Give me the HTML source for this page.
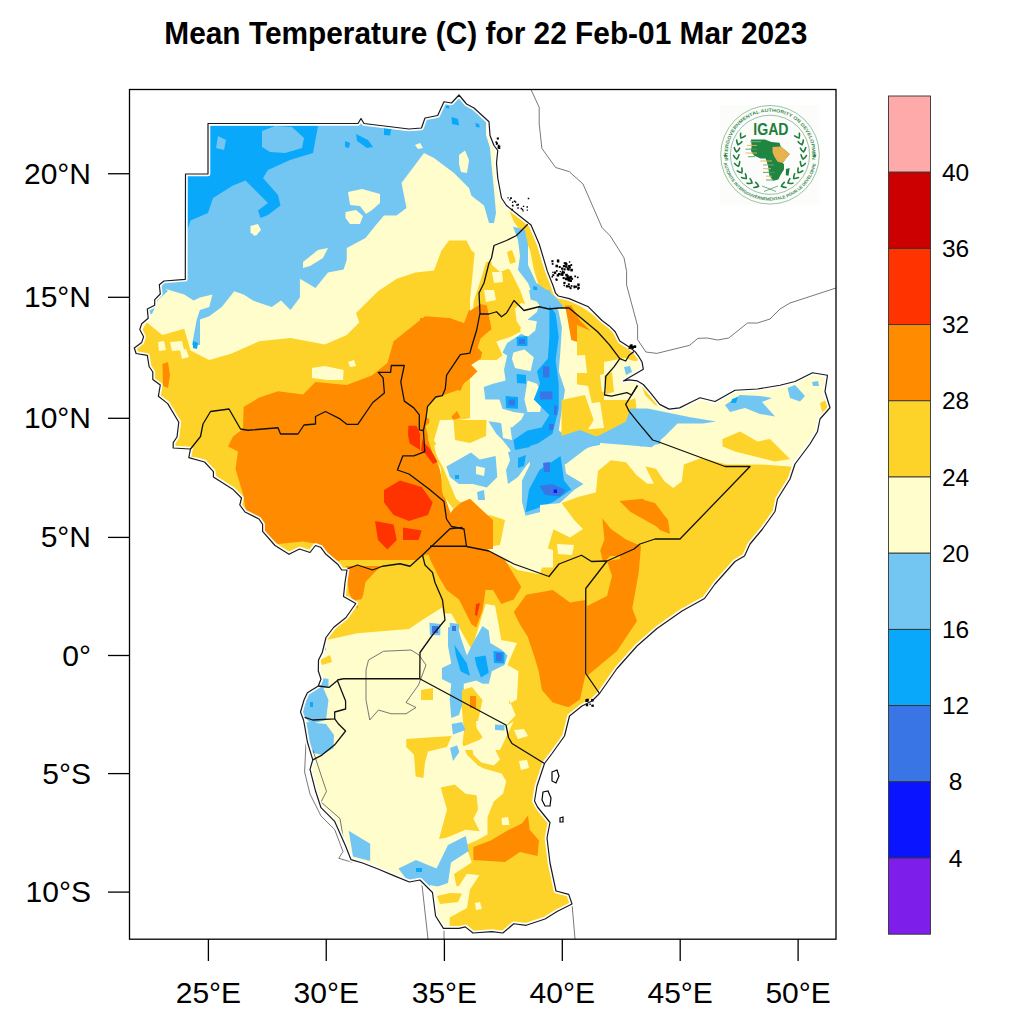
<!DOCTYPE html><html><head><meta charset="utf-8"><style>html,body{margin:0;padding:0;background:#fff;width:1024px;height:1024px;overflow:hidden}svg{display:block}</style></head><body><svg width="1024" height="1024" viewBox="0 0 1024 1024">
<rect width="1024" height="1024" fill="#fff"/>
<text transform="translate(485.8,44.1) scale(0.933,1)" text-anchor="middle" font-family="Liberation Sans" font-weight="bold" font-size="32" fill="#000">Mean Temperature (C) for 22 Feb-01 Mar 2023</text>
<defs><clipPath id="frame"><rect x="129.5" y="89.5" width="706.5" height="849.7"/></clipPath><clipPath id="land"><polygon points="208,123.5 358,123.5 361,118.5 364,123.5 409,129 421.5,128 425,118 437.7,115.5 444,101.75 451.5,103 459,95 466.5,104 474,108 489,121.75 490,135.5 494,145.5 497.75,150.5 496.5,163 497.75,178 501.5,198 506.5,205.5 519,215.5 531,225 539.2,244 547.4,271.4 552.8,285 555.6,293.2 558.3,296 569.2,298.6 588.4,306.8 602,320.5 609.3,325.9 615.2,331.7 619.8,341.1 629.2,347 635.1,351.6 638.6,356.3 642.1,362.2 643.3,369.2 637.4,372.7 629.2,377.4 623.4,380.9 629.2,379.8 637.4,380.9 643.3,384.5 650.3,392.7 659.7,404.4 669.1,409.1 679.6,407.9 691.3,402 700,397.75 715,401.5 735,390.25 757.5,389 780,385.25 795,381.5 812.5,372.75 827.5,375.25 825,391.5 830,407.75 820,419 817.5,431.5 810,444 795,464 790,479 777.5,499 775,511.5 762.5,529 750,544 744.5,556 735,561.5 715,584 704.5,598.5 682,611 657,628.5 637,646 617,668.5 599.5,693.5 592,701 582,706 569.5,716 564.5,736 552,753.5 544.5,763.5 537,786 534.5,801 537.5,807 550,822.5 547,838 550,863 556,891 568.75,894.4 572,904 557.5,911.25 545,919 526.25,925.3 513.75,923.75 502.8,933 492,931.6 473,933 465.3,926.9 459,928.4 443.4,928.4 435.6,916 432.5,892.5 420,880 409.4,882 393.75,875.6 378,869 362.5,863 351,859.7 345.6,846 334.7,821.4 321,807.7 315.6,791.3 310,769.4 312.8,759.8 307.4,742 304.6,725.6 303.5,720 300.5,712 304,700 307.4,692.8 318.3,686 321,679 318.3,671 318.5,660 322.25,652.5 326,637.5 333.5,627.5 346,617.5 355.8,603.5 343.5,596.4 345,582.5 347,570 341.7,570 338.2,564.8 326,554.3 320.6,547.2 315.4,545.5 310,552.5 299.5,549 289,554.3 275,545.5 262.6,531.4 262.6,524.4 259,519 245,512 239.8,505 241.5,498 232.7,489.2 213.4,477 213.4,471.6 204.6,462 188.8,457.6 190.5,448.8 190,449 173.2,448 173.2,442.6 177,437 178.8,422.2 167.7,403.6 158.4,396.2 160.3,385 152.8,379.5 152.8,372 149.1,366.5 147.3,355.4 136.1,353.5 134.3,348 141.7,342.4 143.6,336.8 139.8,329.4 141.7,323.8 148.2,318.2 147.3,309 154.7,305.3 154.7,299.7 160.3,294 159.3,284.8 164,281 185.3,279.3 185.5,174 208,174"/></clipPath></defs>
<g clip-path="url(#frame)">
<polygon points="208,123.5 358,123.5 361,118.5 364,123.5 409,129 421.5,128 425,118 437.7,115.5 444,101.75 451.5,103 459,95 466.5,104 474,108 489,121.75 490,135.5 494,145.5 497.75,150.5 496.5,163 497.75,178 501.5,198 506.5,205.5 519,215.5 531,225 539.2,244 547.4,271.4 552.8,285 555.6,293.2 558.3,296 569.2,298.6 588.4,306.8 602,320.5 609.3,325.9 615.2,331.7 619.8,341.1 629.2,347 635.1,351.6 638.6,356.3 642.1,362.2 643.3,369.2 637.4,372.7 629.2,377.4 623.4,380.9 629.2,379.8 637.4,380.9 643.3,384.5 650.3,392.7 659.7,404.4 669.1,409.1 679.6,407.9 691.3,402 700,397.75 715,401.5 735,390.25 757.5,389 780,385.25 795,381.5 812.5,372.75 827.5,375.25 825,391.5 830,407.75 820,419 817.5,431.5 810,444 795,464 790,479 777.5,499 775,511.5 762.5,529 750,544 744.5,556 735,561.5 715,584 704.5,598.5 682,611 657,628.5 637,646 617,668.5 599.5,693.5 592,701 582,706 569.5,716 564.5,736 552,753.5 544.5,763.5 537,786 534.5,801 537.5,807 550,822.5 547,838 550,863 556,891 568.75,894.4 572,904 557.5,911.25 545,919 526.25,925.3 513.75,923.75 502.8,933 492,931.6 473,933 465.3,926.9 459,928.4 443.4,928.4 435.6,916 432.5,892.5 420,880 409.4,882 393.75,875.6 378,869 362.5,863 351,859.7 345.6,846 334.7,821.4 321,807.7 315.6,791.3 310,769.4 312.8,759.8 307.4,742 304.6,725.6 303.5,720 300.5,712 304,700 307.4,692.8 318.3,686 321,679 318.3,671 318.5,660 322.25,652.5 326,637.5 333.5,627.5 346,617.5 355.8,603.5 343.5,596.4 345,582.5 347,570 341.7,570 338.2,564.8 326,554.3 320.6,547.2 315.4,545.5 310,552.5 299.5,549 289,554.3 275,545.5 262.6,531.4 262.6,524.4 259,519 245,512 239.8,505 241.5,498 232.7,489.2 213.4,477 213.4,471.6 204.6,462 188.8,457.6 190.5,448.8 190,449 173.2,448 173.2,442.6 177,437 178.8,422.2 167.7,403.6 158.4,396.2 160.3,385 152.8,379.5 152.8,372 149.1,366.5 147.3,355.4 136.1,353.5 134.3,348 141.7,342.4 143.6,336.8 139.8,329.4 141.7,323.8 148.2,318.2 147.3,309 154.7,305.3 154.7,299.7 160.3,294 159.3,284.8 164,281 185.3,279.3 185.5,174 208,174" fill="#FFFDCC"/>
<g clip-path="url(#land)">
<polygon points="150,292 150,174 208,170 208,118 459,90 466.5,104 474,108 486,120 486,135 490,148 491.5,165 494,190 496.5,213 494,223 489,223 484,205.5 471.5,195.5 469,188 454,173 434,158 424,153 416.5,163 401.5,183 406.5,208 396.5,215.5 384,215.5 375.5,225.5 365.5,238 346.75,248 346.75,260 343.6,269.4 328,272.5 315.5,288 299.9,278.75 299.9,297.5 290.5,310 281,300.6 271.75,306.9 253,300.6 243.6,294.4 234.25,291.25 221.75,306.9 209.25,316.25 200,319.4 200,345 192,345 196.75,319.4 199.9,310 209.25,306.9 212.4,294.4 199.9,297.5 193.6,300.6 184.25,294.4 162.4,288 150,292" fill="#73C6F2"/>
<polygon points="150,290 162,286 168,291 158,300 152,314 144,312" fill="#73C6F2"/>
<polygon points="205,126 318,126 313,153 290,160 268,170 263,178 278,195 280.5,205.5 268,215 260.5,218 258,210.5 268,203 253,188 245.5,180.5 233,185.5 213,198 208,213 190.5,220.5 188,228 180,228 180,174 205,174" fill="#0AA8FA"/>
<polygon points="262,131 275,126 292,127 304,138 302,148 285,153 270,152 262,147" fill="#73C6F2"/>
<polygon points="218,136 226,140 224,150 216,148" fill="#73C6F2"/>
<polygon points="451.5,117 458,119 459,125.5 452,124" fill="#0AA8FA"/>
<polygon points="384,126 391.5,128 390,135.5 384,135" fill="#0AA8FA"/>
<polygon points="475.4,123 479,124 479.8,127.5 476,127" fill="#0AA8FA"/>
<polygon points="446,105.5 449,106 449,108.4 446,108" fill="#0AA8FA"/>
<polygon points="356,134 368,140 373,147 367,148 357,141" fill="#0AA8FA"/>
<polygon points="345,141 350,143 349,148 345,147" fill="#0AA8FA"/>
<polygon points="193,341 198,343 197,349 193,348" fill="#0AA8FA"/>
<polygon points="348,192 362,189 380,194 380,203 372,210 366,214 360,206 350,205" fill="#FFFDCC"/>
<polygon points="345.5,212 356,210 363,216 360,224 350,224 345.5,218" fill="#FFFDCC"/>
<polygon points="250.5,226 258,224 261,230 256,235.5 250.5,233" fill="#FFFDCC"/>
<polygon points="459,155 465,150.5 469,160 467,173 461,172 459,164" fill="#FFFDCC"/>
<polygon points="415,145 420,143 423,148 418,149" fill="#FFFDCC"/>
<polygon points="303,262 318,250 328,248 323,258 310,266 303,268" fill="#FFFDCC"/>
<polygon points="252,232 256,230 258,234 254,236" fill="#FFFDCC"/>
<polygon points="120,338 137.4,338 146.75,322.5 162.4,335 184.25,328.75 190.5,350.6 209.25,360 231,353.75 259.25,341.25 290.5,338 324.9,344.4 346.75,335 359.25,322.5 356,313 378,291.25 396.75,278.75 415.5,272.5 434,270.5 441.5,250.5 449,240.5 466.5,240.5 471.5,250.5 481.5,258 489,263 484,283 479,293 480,313 476.7,330 478,347.8 476,420 450,520 420,600 300,620 120,620" fill="#FDD32A"/>
<polygon points="158,342 164,341 166,350 159,351" fill="#FFFDCC"/>
<polygon points="170,342 182,341 184,350 172,351" fill="#FFFDCC"/>
<polygon points="180,350 186,349 189,357 182,359" fill="#FFFDCC"/>
<polygon points="312,368 325,366 343.6,370 343,380 328,380 312,378" fill="#FFFDCC"/>
<polygon points="348,362 354,360 356,366 350,367" fill="#FFFDCC"/>
<polygon points="243.6,407 259.25,397.5 278,391.25 303,394.4 315.5,382 346.75,385 371.75,375.6 387.4,363 393.6,341.25 409.25,328.75 425,316.25 449,318 464,323 469,310.5 481.5,303 486.5,308 491,318 489,338 470,345 468.5,357.3 469.9,371 463,384.7 457.6,398.4 454.8,406.6 460.3,417.5 453.5,420.2 441.2,398.4 430,410 428,440 440,470 446,500 455,525 462,540 440,552 422,556 410,566 400,570 382.5,577.5 365,585 367.5,600 362.5,607.5 352.5,595 350,570 348,564 333,559 318,544 303,541.5 278,544 268,536 248,514 245.5,509 243,494 235.5,469 238,451.5 228,446.5 233,436.5 243,429" fill="#FF8C00"/>
<polygon points="162.4,364 168,362 170,375 168,388 163,386" fill="#FF8C00"/>
<polygon points="384,490 400,480.6 421.75,487 432.7,502.5 428,515 409,521 393.6,515 384,502.5" fill="#FF3300"/>
<polygon points="375,521 393.6,524.4 396.75,540 387.4,549.4 378,540" fill="#FF3300"/>
<polygon points="403,527.5 421.75,530.6 418.6,540 403,540" fill="#FF3300"/>
<polygon points="408.4,425.7 416.6,425.7 423.4,442.1 428.9,447.6 438.4,461.3 433,464 424.8,453 409.7,443.5 408,435" fill="#FF3300"/>
<polygon points="480,200 520,205 640,340 640,440 470,440 470,300" fill="#FFFDCC"/>
<polygon points="474,300 480,282 486,262 498,262 510,270 520,290 528,312 520,330 540,360 470,360 470,330" fill="#FDD32A"/>
<polygon points="490,248 508,250 510,268 500,272 492,265" fill="#FFFDCC"/>
<polygon points="484,290 494,290 496,300 486,302" fill="#FFFDCC"/>
<polygon points="492,272 502,272 503,282 494,283" fill="#FFFDCC"/>
<polygon points="507,252 512,250 516,262 510,264" fill="#FDD32A"/>
<polygon points="500,200 512,208 522,216 530,228 537,245 542,262 548,278 556,286 566,296 580,306 598,318 612,330 622,341 632,348 640,360 630,362 618,352 600,338 584,325 566,312 552,300 540,290 534,270 530,250 524,236 514,222" fill="#FDD32A"/>
<polygon points="513,226.5 524.8,230 528,244.8 528,265 536.4,283 546.4,289.7 556.4,298 563,306 562,330 560,370 530,370 540,330 546,310 540,306 533,296 528,283 518,270 520,256 518,240" fill="#73C6F2"/>
<polygon points="533,286 537,287 538,294 534,293" fill="#0AA8FA"/>
<polygon points="564.7,309.6 578,319.6 590,330 596,339.5 597,352.8 586,353 576,339.5 569.7,323" fill="#FF8C00"/>
<polygon points="478,190 500,190 514,222 505,226 490,225 478,215" fill="#FFFDCC"/>
<polygon points="470,190 494,190 496,213 494,223 489,223 484,205.5 471.5,195.5" fill="#73C6F2"/>
<polygon points="440,318 449.4,318 466.6,324.4 468,311.9 480.6,304 486.9,305.6 488.4,313.4 491.6,329 480.6,338.4 477.5,347.8 482.2,352.5 480.6,358.75 471.25,365 477.5,371.25 471.25,377.5 463.4,383.75 452,390 442.5,395.6 435.7,397 427.5,406.6 426.1,417.5 423.4,430.5 420,458 420,318" fill="#FF8C00"/>
<polygon points="442.5,395.6 458,390 466,393 460,408 448,420 433,421 426.1,417.5 427.5,406.6 435.7,397" fill="#FDD32A"/>
<polygon points="440,420 460.3,419.7 471.25,418 480.6,411.9 476,399.4 483.75,383.75 485.3,371.25 490,365 502.5,355.6 496.25,341.6 510.3,336.9 522.8,330.6 516.6,321.25 515,308.75 521,303 539,306.75 549,309 559,308 569,308 575,320 577,430 520,452 470,452 440,452 434,440" fill="#FFFDCC"/>
<polygon points="496.25,324.4 499.4,330.6 502.5,336.9 510.3,333.75 505.6,324.4" fill="#FDD32A"/>
<polygon points="434,445 520,440 600,445 600,560 540,572 514,564 489,551 470,545 455,525 446,500 440,470" fill="#FFFDCC"/>
<polygon points="529,290 549.4,290 555.6,302.5 558.75,311.9 561.9,327.5 560.3,352.5 558.75,371.25 565,390 561.9,408.75 558.75,430.6 568,436.9 590,433.75 600,430.6 600,445 560,452 543,455 529,462 518,477 508,484 506,470 511,458 510.3,450 502.5,440 496.25,433.75 488.4,421.25 499.4,422.8 511.9,427.5 521.25,419.7 524.4,413.4 513.4,411.9 502.5,408.75 499.4,399.4 485.3,399.4 483.75,386.9 493,383.75 505.6,380.6 504,369.7 507.2,355.6 502.5,352.5 507.2,343 521.25,333.75 527.5,336.9 535.3,330.6 536.9,321.25 527.5,319.7 536.9,311.9 540,302.5 530.6,299.4" fill="#73C6F2"/>
<polygon points="513.4,352.5 524.4,349.4 533.75,357.2 530.6,371.25 515,368 511.9,358.75" fill="#FFFDCC"/>
<polygon points="527.5,380.6 536.9,383.75 543,396.25 540,411.9 527.5,411.9 524.4,399.4" fill="#FFFDCC"/>
<polygon points="501,421 510,424 512,440 503,438" fill="#FFFDCC"/>
<polygon points="549.4,305.6 555.6,313.4 558.75,337 555.6,360.3 558.75,383.75 558.75,408.75 552.5,433.75 533.75,446.25 515,450 513.4,440 527.5,430.6 541.6,427.5 549.4,415 533.75,399.4 540,383.75 536.9,371.25 547.8,358.75 549.4,337 549.4,321.25" fill="#0AA8FA"/>
<polygon points="516.6,374 526,375 526,383.75 517,383" fill="#0AA8FA"/>
<polygon points="505.6,396 518,397 518,408.75 506,408" fill="#0AA8FA"/>
<polygon points="508.75,399.4 515,399.4 515,405.6 508.75,405.6" fill="#3A75E6"/>
<polygon points="516.6,337 527.5,336 527.5,346 517,346" fill="#0AA8FA"/>
<polygon points="519,339 525,339 525,344 519,344" fill="#3A75E6"/>
<polygon points="543,366.6 549.4,366.6 549.4,377.5 543,377.5" fill="#3A75E6"/>
<polygon points="540,391.6 552.5,391.6 552.5,399.4 540,399.4" fill="#3A75E6"/>
<polygon points="554,405.6 557.2,405.6 557.2,415 554,415" fill="#3A75E6"/>
<polygon points="549,424 554,424 553,430 549,430" fill="#3A75E6"/>
<polygon points="565,305.6 571.25,305.6 580.6,321.25 596.25,337 596.25,349.4 585.3,352.5 580.6,343 571.25,340 568,321.25" fill="#FF8C00"/>
<polygon points="577,325 600,335 630,350 640,440 600,436 568,436.9 577,420" fill="#FDD32A"/>
<polygon points="574.7,384 588,386 592,404 585,417.3 576,412" fill="#FFFDCC"/>
<polygon points="568,356 585,355 587,373 570,373" fill="#FFFDCC"/>
<polygon points="578,405 600,402 604,428 580,430" fill="#FFFDCC"/>
<polygon points="600,375 612,372 615,388 602,392" fill="#FFFDCC"/>
<polygon points="561.5,400 585,395 593.7,420 580,443 561.5,440" fill="#FDD32A"/>
<polygon points="604,362 625,358 645,365 645,395 630,400 604,400" fill="#FFFDCC"/>
<polygon points="624,367 630,366 632,372 626,375" fill="#73C6F2"/>
<polygon points="604,376 612,372 614,392 606,394" fill="#FDD32A"/>
<polygon points="475,520 490,515 505,520 500,545 480,548 466.5,546.5 466,530" fill="#FDD32A"/>
<polygon points="425.5,426 433,420 434.4,451.7 443.3,468 449.7,483.5 456,498.7 461,502.5 453.5,509 443.3,496 442,491 440.8,468 432,451.7" fill="#FDD32A"/>
<polygon points="453.5,509 461,502.5 470,498.7 482,510 493,520 493,549 470,550 455,550 446,519" fill="#FF8C00"/>
<polygon points="453.5,420 486.5,420 486,436 470,443 455,440" fill="#FDD32A"/>
<polygon points="530,446 580,430 600,438 566,464 530,466" fill="#73C6F2"/>
<polygon points="522,480.6 532.5,459.5 560.6,452.5 600,435 626,421.5 630.2,408.6 647.4,408.6 690.4,417.2 716.2,421.5 703.3,423.6 677.5,423.6 664.6,436.5 651.7,447.3 626,445.1 600.2,443 567.9,455.8 564,459.5 566,473.6 583.5,484 574.7,489.4 553.6,508.75 525.5,515.8 522,501.7" fill="#73C6F2"/>
<polygon points="640,411.5 665,412 660,444 640,446.5" fill="#73C6F2"/>
<polygon points="508,452 535,448 530,462 520,470 512,468" fill="#73C6F2"/>
<polygon points="525.5,512.3 529,489.4 539.5,470 560.6,456 564,480.6 571.2,489.4 553.6,501.7 536,508.75" fill="#0AA8FA"/>
<polygon points="539.5,486 552,484 566,490 560,496.4 545,495" fill="#3A75E6"/>
<polygon points="543,463 550,462 550,472 544,472" fill="#3A75E6"/>
<polygon points="553.6,489.5 557,489.5 557,493 553.6,493" fill="#0A14FF"/>
<polygon points="518,458 526,455 524,466 518,468" fill="#0AA8FA"/>
<polygon points="446.4,466.6 471,452.5 479.8,459.5 495.6,456 497.3,477 486.8,487.6 472.7,484 458.7,484 449.9,477" fill="#73C6F2"/>
<polygon points="455,475 459,475 459,479 455,479" fill="#0AA8FA"/>
<polygon points="476,466 485,468 484,476 476,474" fill="#FFFDCC"/>
<polygon points="477,492 484,490 485,500 478,500" fill="#73C6F2"/>
<polygon points="540,574 561.5,503 578.7,496.7 595.9,492.4 598,470.9 610.9,460.2 626,462.3 636.7,475.2 647.4,483.8 653.9,483.8 645.3,466.6 656,468.7 664.6,481.6 673.2,488 681.8,481.6 683.9,464.4 701.1,458 726.9,464.4 760,464.4 790,466.5 800,470 780,620 640,700 540,700" fill="#FDD32A"/>
<polygon points="540,520.3 552.9,528.9 570,537.5 583,528.9 574.4,520.3 561.5,503 540,505" fill="#FFFDCC"/>
<polygon points="540,546 553,550 553,567.6 540,567.6" fill="#FFFDCC"/>
<polygon points="557,544 574,545 572,555 558,554" fill="#FFFDCC"/>
<polygon points="619.5,501 643.1,498.8 651.7,511.7 668.9,526.7 664.6,531 645.3,520.3 630.2,511.7" fill="#FF8C00"/>
<polygon points="602.3,518.2 610.9,528.9 626,539.6 641,546 638.8,571.9 630.2,620 587.3,620 585.1,589 600.2,584.7 610.9,582.6 604.4,567.6 600.2,550.4 604.4,539.6" fill="#FF8C00"/>
<polygon points="540,589 561.5,593.3 580.8,602 585.1,620 540,620" fill="#FF8C00"/>
<polygon points="640,499 655,503 668,520 670,534 660,530 645,515" fill="#FF8C00"/>
<polygon points="640,381 655,395 670,409 655,405 645,395" fill="#FDD32A"/>
<polygon points="722.5,439 740,431.5 757.5,441.5 770,439 790,459 775,461.5 755,456.5 735,451.5 722.5,446.5" fill="#FDD32A"/>
<polygon points="725,405 740,395 760,396 772,398 762,402 775,416.5 760,414 745,408 730,412" fill="#73C6F2"/>
<polygon points="732,399 738,397 736,403 731,403" fill="#0AA8FA"/>
<polygon points="787.5,388 795,385 805,396 800,401.5 790,398" fill="#73C6F2"/>
<polygon points="812,382 818,381 819,386 813,386" fill="#73C6F2"/>
<polygon points="820,403 826,400 828,410 822,412" fill="#FDD32A"/>
<polygon points="430,546 489,551 517.5,570 549,576 559.6,563 580.7,554.4 589.5,561.4 605.3,561.4 610,556 620,556 620,720 580,760 600,940 448,940 448,927 436.5,898 457,889 454,874 471.7,862.6 465.8,845 476.6,840.6 487.5,834.4 487.5,817.2 493.75,801.6 503,793.75 506.25,781.25 501.6,773.4 484.4,768.75 478,765.6 467,754.7 462.5,743.75 464,731 462.5,715.6 461,700 478,700 475,709.4 476.6,728 482.8,737.5 500,736 507.8,723.4 515.6,715.6 509.4,700 509,704 516.9,699.4 518.4,671.25 507.5,665 516.9,643.1 501.25,640 498,621.25 495,605.6 485.6,604 479.4,624.4 471.6,649.4 451.25,613.4 443.4,613.4 440,600 430,580" fill="#FDD32A"/>
<polygon points="340,560 445,560 443,607 421.8,620.3 409,628.9 357.3,633.2 318.7,641.8 310,641 315,620 330,600" fill="#FDD32A"/>
<polygon points="346,566 382,566 375,572 365.5,582 363,595.6 357.3,609 349,593" fill="#FF8C00"/>
<polygon points="504.4,727.5 490.3,730.6 479.4,740 463.75,746.25 451.25,750 500,750 513.75,721.25" fill="#FFFDCC"/>
<polygon points="426,547.3 450,528 467,527 489,551 505,560 521.3,587 513.75,599.4 501.25,604 493,590 485.6,590 482.5,610.3 476.25,627.5 471.6,624.4 459,599.4 446.6,590 439,577.3 430.4,560" fill="#FF8C00"/>
<polygon points="513.75,611.9 526.25,594.7 552.8,590 570,602.5 585.75,600 585.75,673.5 580,699.4 568.4,707.2 552.8,702.5 541.9,690 538.75,671.25 534,655.6 527.8,636.9 520,624.4" fill="#FF8C00"/>
<polygon points="587,606 607,596 612,576 607,561 639.5,556 629.5,601 637,621 617,651 587,676" fill="#FF8C00"/>
<polygon points="476,604 480,603 477,616 475,615" fill="#FF3300"/>
<polygon points="448,627.5 457.5,624.4 460.6,637 466.9,655.6 473,643 482.5,626 488.75,630.6 490.3,643 501.25,649.4 507.5,655.6 504.4,665 491.9,671.25 488.75,683.75 482.5,683.75 476.25,680.6 463.75,683.75 463.75,699.4 459,715 451.25,718 449.7,699.4 451.25,683.75 441.9,679 441.9,668 451.25,663.4 448,646.25" fill="#73C6F2"/>
<polygon points="454.4,644.7 466.9,663.4 470,676 460.6,671.25 456,655.6" fill="#0AA8FA"/>
<polygon points="474.7,657.2 485.6,655.6 488.75,672.8 481,677.5 476.25,665" fill="#0AA8FA"/>
<polygon points="493.4,651 504.4,652 504.4,663.4 494,663" fill="#0AA8FA"/>
<polygon points="496,653 502,653 502,661 496,661" fill="#3A75E6"/>
<polygon points="429.4,622.8 440.3,624 440.3,635.3 430,635" fill="#73C6F2"/>
<polygon points="432,626 438,626 438,633 432,633" fill="#3A75E6"/>
<polygon points="449.7,622.8 459,624 459,633.75 450,633" fill="#73C6F2"/>
<polygon points="452,626 456,626 456,631 452,631" fill="#3A75E6"/>
<polygon points="495,724.4 504.4,725 504.4,730.6 495,730" fill="#73C6F2"/>
<polygon points="462,690 472,687 482.5,700 478,721 466,721 462,705" fill="#FDD32A"/>
<polygon points="470,696 476,696 476,708 470,708" fill="#FF8C00"/>
<polygon points="421,690 433,688 433,700 421,700" fill="#FDD32A"/>
<polygon points="440.6,787.5 454.7,784.4 465.6,793.75 476.6,795.3 478,809.4 473.4,818.75 479.7,831.25 465.6,829.7 447,837.5 439,839 447,809.4" fill="#FDD32A"/>
<polygon points="471.9,745.3 482.8,740.6 493.75,746.9 500,759.4 493.75,765.6 481.25,762.5 473.4,754.7" fill="#FFFDCC"/>
<polygon points="514,730 524,729 528,736 518,739" fill="#FFFDCC"/>
<polygon points="519,761 527,760 529,768 521,770" fill="#FFFDCC"/>
<polygon points="501.6,818 508,817 509.4,825 502,825" fill="#FFFDCC"/>
<polygon points="451.6,724 462,722 465.6,730 453,734.4" fill="#73C6F2"/>
<polygon points="450,748 457,745.3 459.4,752 453,761" fill="#73C6F2"/>
<polygon points="406.25,739 428,737.5 451.6,736 447,747 428,751.6 425,762.5 423.4,778 415.6,776.6 414,754.7 406.25,747" fill="#FDD32A"/>
<polygon points="356,600 372,598 375,612 360,612" fill="#FDD32A"/>
<polygon points="348.7,830.8 370.2,843.7 370.2,861 353,856.6" fill="#73C6F2"/>
<polygon points="398.4,868.5 416,860 436.5,868.5 448,845 465.8,836 468.7,851 451,862.6 448,883 430.6,889 407,880" fill="#73C6F2"/>
<polygon points="416,868 422,868 422,872 416,872" fill="#0AA8FA"/>
<polygon points="430,885 445,888 459,886 466.9,873.75 479.4,875.3 470,889.4 466.9,908 449.7,917.5 449.7,932 430,932" fill="#FFFDCC"/>
<polygon points="437,896 450,893 462,893.5 458,902 440,904" fill="#FDD32A"/>
<polygon points="475,903 480,902 482,909 476,910" fill="#FFFDCC"/>
<polygon points="473.4,846.9 490.6,840.6 506.25,831.25 521.9,823.4 528,815.6 529.7,829.7 539,840.6 537.5,856 520,852 505,862 473.4,860" fill="#FF8C00"/>
<polygon points="300,690 322,685 328.5,700 326,720 311,724 300,712" fill="#73C6F2"/>
<polygon points="306,722 326,724 334,735 333.5,748 322,755 310,752" fill="#73C6F2"/>
<polygon points="318.5,677.5 328.5,679 328.5,687.5 318.5,687.5" fill="#73C6F2"/>
<polygon points="310,702 313,702 313,707 310,707" fill="#0AA8FA"/>
<polygon points="322,643 326,643 326,650 322,650" fill="#0AA8FA"/>
<polygon points="320,660 330,655 332,662 322,665" fill="#FDD32A"/>
</g>
<polyline points="531,89.6 539.2,107.3 539.2,123.8 541.9,148.4 555.6,167.5 569.2,171.6 583,184 602,227.6 610.3,236 624,257.8 626.6,271.4 626.6,285 637.6,326 637.6,339.7 645.9,352 656.8,353.4 689.6,345.3 697.8,338.4 707.5,338 717.5,340 728.75,338 747.5,323 757.5,323 770,319 780,309 790,303 836,288" fill="none" stroke="#555" stroke-width="0.8"/>
<polyline points="368.5,660 383.5,651.25 411,650 419,655 426,665 418.5,685 406,702.5 416,707.5 406,713.75 391,713.75 378.5,710 369.75,720 366,700 366,670 368.5,660" fill="none" stroke="#555" stroke-width="0.8"/>
<polyline points="306,742 304.6,772 310,794 321,816 334.7,829.6 343,851.5 338.8,858.3 352.5,862.4" fill="none" stroke="#555" stroke-width="0.8"/>
<polyline points="312.8,750 321,775 326.5,791.3 321,802 340,818.6 345.6,851.5" fill="none" stroke="#555" stroke-width="0.8"/>
<polyline points="422,885 428,939" fill="none" stroke="#555" stroke-width="0.8"/>
<polyline points="444,929 444,939" fill="none" stroke="#555" stroke-width="0.8"/>
<polyline points="572,904 575,939" fill="none" stroke="#555" stroke-width="0.8"/>
<polygon points="208,123.5 358,123.5 361,118.5 364,123.5 409,129 421.5,128 425,118 437.7,115.5 444,101.75 451.5,103 459,95 466.5,104 474,108 489,121.75 490,135.5 494,145.5 497.75,150.5 496.5,163 497.75,178 501.5,198 506.5,205.5 519,215.5 531,225 539.2,244 547.4,271.4 552.8,285 555.6,293.2 558.3,296 569.2,298.6 588.4,306.8 602,320.5 609.3,325.9 615.2,331.7 619.8,341.1 629.2,347 635.1,351.6 638.6,356.3 642.1,362.2 643.3,369.2 637.4,372.7 629.2,377.4 623.4,380.9 629.2,379.8 637.4,380.9 643.3,384.5 650.3,392.7 659.7,404.4 669.1,409.1 679.6,407.9 691.3,402 700,397.75 715,401.5 735,390.25 757.5,389 780,385.25 795,381.5 812.5,372.75 827.5,375.25 825,391.5 830,407.75 820,419 817.5,431.5 810,444 795,464 790,479 777.5,499 775,511.5 762.5,529 750,544 744.5,556 735,561.5 715,584 704.5,598.5 682,611 657,628.5 637,646 617,668.5 599.5,693.5 592,701 582,706 569.5,716 564.5,736 552,753.5 544.5,763.5 537,786 534.5,801 537.5,807 550,822.5 547,838 550,863 556,891 568.75,894.4 572,904 557.5,911.25 545,919 526.25,925.3 513.75,923.75 502.8,933 492,931.6 473,933 465.3,926.9 459,928.4 443.4,928.4 435.6,916 432.5,892.5 420,880 409.4,882 393.75,875.6 378,869 362.5,863 351,859.7 345.6,846 334.7,821.4 321,807.7 315.6,791.3 310,769.4 312.8,759.8 307.4,742 304.6,725.6 303.5,720 300.5,712 304,700 307.4,692.8 318.3,686 321,679 318.3,671 318.5,660 322.25,652.5 326,637.5 333.5,627.5 346,617.5 355.8,603.5 343.5,596.4 345,582.5 347,570 341.7,570 338.2,564.8 326,554.3 320.6,547.2 315.4,545.5 310,552.5 299.5,549 289,554.3 275,545.5 262.6,531.4 262.6,524.4 259,519 245,512 239.8,505 241.5,498 232.7,489.2 213.4,477 213.4,471.6 204.6,462 188.8,457.6 190.5,448.8 190,449 173.2,448 173.2,442.6 177,437 178.8,422.2 167.7,403.6 158.4,396.2 160.3,385 152.8,379.5 152.8,372 149.1,366.5 147.3,355.4 136.1,353.5 134.3,348 141.7,342.4 143.6,336.8 139.8,329.4 141.7,323.8 148.2,318.2 147.3,309 154.7,305.3 154.7,299.7 160.3,294 159.3,284.8 164,281 185.3,279.3 185.5,174 208,174" fill="none" stroke="#fff" stroke-width="4.6" stroke-linejoin="round"/>
<polygon points="552,772 557,770 559,776 556,783 552,781" fill="#fff" stroke="#000" stroke-width="1.2"/>
<polygon points="543,792 548,791 551,798 550,806 545,806 542,800" fill="#fff" stroke="#000" stroke-width="1.2"/>
<polygon points="560,818 563,817 563,822 560,822" fill="#fff" stroke="#000" stroke-width="1.2"/>
<polygon points="555.9,270.026 557.618,270.026 557.618,271.744 555.9,271.744" fill="#000"/>
<polygon points="563.433,271.869 564.724,271.869 564.724,273.16 563.433,273.16" fill="#000"/>
<polygon points="551.482,275.968 553.045,275.968 553.045,277.531 551.482,277.531" fill="#000"/>
<polygon points="555.757,278.984 557.616,278.984 557.616,280.842 555.757,280.842" fill="#000"/>
<polygon points="567.682,268.48 569.777,268.48 569.777,270.574 567.682,270.574" fill="#000"/>
<polygon points="553.805,271.49 556.22,271.49 556.22,273.905 553.805,273.905" fill="#000"/>
<polygon points="561.394,273.755 563.534,273.755 563.534,275.895 561.394,275.895" fill="#000"/>
<polygon points="552.267,274.151 554.294,274.151 554.294,276.178 552.267,276.178" fill="#000"/>
<polygon points="556.819,259.414 559.231,259.414 559.231,261.826 556.819,261.826" fill="#000"/>
<polygon points="560.24,273.161 562.67,273.161 562.67,275.592 560.24,275.592" fill="#000"/>
<polygon points="565.406,277.545 567.159,277.545 567.159,279.298 565.406,279.298" fill="#000"/>
<polygon points="566.763,267.638 569.273,267.638 569.273,270.147 566.763,270.147" fill="#000"/>
<polygon points="568.882,261.254 570.273,261.254 570.273,262.644 568.882,262.644" fill="#000"/>
<polygon points="555.434,278.404 557.245,278.404 557.245,280.215 555.434,280.215" fill="#000"/>
<polygon points="563.578,265.065 565.488,265.065 565.488,266.976 563.578,266.976" fill="#000"/>
<polygon points="558.708,266.009 560.727,266.009 560.727,268.028 558.708,268.028" fill="#000"/>
<polygon points="562.608,277.007 564.762,277.007 564.762,279.161 562.608,279.161" fill="#000"/>
<polygon points="569.285,275.834 571.873,275.834 571.873,278.422 569.285,278.422" fill="#000"/>
<polygon points="564.223,262.06 566.628,262.06 566.628,264.464 564.223,264.464" fill="#000"/>
<polygon points="570.294,277.096 572.291,277.096 572.291,279.092 570.294,279.092" fill="#000"/>
<polygon points="565.094,263.04 567.458,263.04 567.458,265.405 565.094,265.405" fill="#000"/>
<polygon points="562.826,265.055 564.115,265.055 564.115,266.344 562.826,266.344" fill="#000"/>
<polygon points="568.417,279.134 569.741,279.134 569.741,280.458 568.417,280.458" fill="#000"/>
<polygon points="567.306,267.504 568.717,267.504 568.717,268.915 567.306,268.915" fill="#000"/>
<polygon points="556.667,274.165 559.089,274.165 559.089,276.587 556.667,276.587" fill="#000"/>
<polygon points="552.252,271.659 553.515,271.659 553.515,272.922 552.252,272.922" fill="#000"/>
<polygon points="565.152,265.402 567.585,265.402 567.585,267.836 565.152,267.836" fill="#000"/>
<polygon points="570.314,268.809 572.912,268.809 572.912,271.407 570.314,271.407" fill="#000"/>
<polygon points="557.174,260.52 559.213,260.52 559.213,262.559 557.174,262.559" fill="#000"/>
<polygon points="551.742,263.062 553.513,263.062 553.513,264.833 551.742,264.833" fill="#000"/>
<polygon points="563.58,262.494 564.839,262.494 564.839,263.754 563.58,263.754" fill="#000"/>
<polygon points="568.085,265.006 570.627,265.006 570.627,267.548 568.085,267.548" fill="#000"/>
<polygon points="569.011,266.633 570.855,266.633 570.855,268.478 569.011,268.478" fill="#000"/>
<polygon points="561.385,271.861 563.418,271.861 563.418,273.895 561.385,273.895" fill="#000"/>
<polygon points="561.927,271.144 564.444,271.144 564.444,273.661 561.927,273.661" fill="#000"/>
<polygon points="561.036,267.52 563.245,267.52 563.245,269.728 561.036,269.728" fill="#000"/>
<polygon points="555.468,264.737 558.037,264.737 558.037,267.306 555.468,267.306" fill="#000"/>
<polygon points="561.815,270.361 563.031,270.361 563.031,271.577 561.815,271.577" fill="#000"/>
<polygon points="559.69,270.985 560.918,270.985 560.918,272.213 559.69,272.213" fill="#000"/>
<polygon points="563.674,272.002 564.958,272.002 564.958,273.286 563.674,273.286" fill="#000"/>
<polygon points="563.471,268.25 565.622,268.25 565.622,270.401 563.471,270.401" fill="#000"/>
<polygon points="557.935,273.022 560.168,273.022 560.168,275.256 557.935,275.256" fill="#000"/>
<polygon points="551.37,260.138 553.517,260.138 553.517,262.285 551.37,262.285" fill="#000"/>
<polygon points="570.347,264.103 572.186,264.103 572.186,265.942 570.347,265.942" fill="#000"/>
<polygon points="562.999,265.546 564.708,265.546 564.708,267.255 562.999,267.255" fill="#000"/>
<polygon points="567.986,279.151 570.02,279.151 570.02,281.185 567.986,281.185" fill="#000"/>
<polygon points="567.666,279.14 569.947,279.14 569.947,281.421 567.666,281.421" fill="#000"/>
<polygon points="563.316,281.855 565.545,281.855 565.545,284.084 563.316,284.084" fill="#000"/>
<polygon points="567.798,276.953 570.123,276.953 570.123,279.278 567.798,279.278" fill="#000"/>
<polygon points="566.914,276.719 568.724,276.719 568.724,278.528 566.914,278.528" fill="#000"/>
<polygon points="574.344,275.6 575.994,275.6 575.994,277.251 574.344,277.251" fill="#000"/>
<polygon points="568.433,285.763 570.247,285.763 570.247,287.576 568.433,287.576" fill="#000"/>
<polygon points="576.853,276.534 578.524,276.534 578.524,278.206 576.853,278.206" fill="#000"/>
<polygon points="573.488,286.473 575.319,286.473 575.319,288.304 573.488,288.304" fill="#000"/>
<polygon points="566.63,275.722 568.571,275.722 568.571,277.664 566.63,277.664" fill="#000"/>
<polygon points="565.866,285.108 568.24,285.108 568.24,287.482 565.866,287.482" fill="#000"/>
<polygon points="565.772,277.735 568.102,277.735 568.102,280.065 565.772,280.065" fill="#000"/>
<polygon points="573.429,285.446 575.113,285.446 575.113,287.129 573.429,287.129" fill="#000"/>
<polygon points="564.919,277.931 567.231,277.931 567.231,280.243 564.919,280.243" fill="#000"/>
<polygon points="567.447,278.957 569.231,278.957 569.231,280.741 567.447,280.741" fill="#000"/>
<polygon points="569.472,279.489 571.961,279.489 571.961,281.978 569.472,281.978" fill="#000"/>
<polygon points="565.236,273.805 567.756,273.805 567.756,276.326 565.236,276.326" fill="#000"/>
<polygon points="577.176,287.913 578.984,287.913 578.984,289.721 577.176,289.721" fill="#000"/>
<polygon points="578.447,287.228 579.958,287.228 579.958,288.739 578.447,288.739" fill="#000"/>
<polygon points="574.864,285.65 576.992,285.65 576.992,287.778 574.864,287.778" fill="#000"/>
<polygon points="571.465,278.208 573.143,278.208 573.143,279.885 571.465,279.885" fill="#000"/>
<polygon points="566.627,274.941 568.652,274.941 568.652,276.965 566.627,276.965" fill="#000"/>
<polygon points="567.961,285.711 569.224,285.711 569.224,286.974 567.961,286.974" fill="#000"/>
<polygon points="577.211,283.465 579.704,283.465 579.704,285.959 577.211,285.959" fill="#000"/>
<polygon points="577.341,286.592 579.349,286.592 579.349,288.599 577.341,288.599" fill="#000"/>
<polygon points="563.49,284.714 564.931,284.714 564.931,286.154 563.49,286.154" fill="#000"/>
<polygon points="567.831,283.313 569.766,283.313 569.766,285.248 567.831,285.248" fill="#000"/>
<polygon points="569.591,287.118 571.649,287.118 571.649,289.175 569.591,289.175" fill="#000"/>
<polygon points="568.258,277.331 570.665,277.331 570.665,279.738 568.258,279.738" fill="#000"/>
<polygon points="570.789,285.106 572.481,285.106 572.481,286.799 570.789,286.799" fill="#000"/>
<polygon points="511.891,204.709 513.581,204.709 513.581,206.399 511.891,206.399" fill="#000"/>
<polygon points="511.235,208.79 512.988,208.79 512.988,210.543 511.235,210.543" fill="#000"/>
<polygon points="526.743,209.574 527.947,209.574 527.947,210.778 526.743,210.778" fill="#000"/>
<polygon points="522.472,210.186 523.702,210.186 523.702,211.416 522.472,211.416" fill="#000"/>
<polygon points="513.755,200.539 515.272,200.539 515.272,202.056 513.755,202.056" fill="#000"/>
<polygon points="517.319,203.733 518.985,203.733 518.985,205.399 517.319,205.399" fill="#000"/>
<polygon points="507.405,197.239 508.681,197.239 508.681,198.515 507.405,198.515" fill="#000"/>
<polygon points="510.099,197.202 511.883,197.202 511.883,198.987 510.099,198.987" fill="#000"/>
<polygon points="527.756,197.627 529.257,197.627 529.257,199.129 527.756,199.129" fill="#000"/>
<polygon points="514.876,201.328 516.287,201.328 516.287,202.739 514.876,202.739" fill="#000"/>
<polygon points="522.818,205.678 524.234,205.678 524.234,207.094 522.818,207.094" fill="#000"/>
<polygon points="511.949,201.623 513.223,201.623 513.223,202.898 511.949,202.898" fill="#000"/>
<polygon points="520.619,207.743 522.047,207.743 522.047,209.171 520.619,209.171" fill="#000"/>
<polygon points="509.206,199.145 510.63,199.145 510.63,200.569 509.206,200.569" fill="#000"/>
<polygon points="521.792,208.808 523.221,208.808 523.221,210.236 521.792,210.236" fill="#000"/>
<polygon points="526.498,206.237 527.957,206.237 527.957,207.696 526.498,207.696" fill="#000"/>
<polygon points="516.127,204.128 517.749,204.128 517.749,205.749 516.127,205.749" fill="#000"/>
<polygon points="517.354,207.368 518.831,207.368 518.831,208.844 517.354,208.844" fill="#000"/>
<polygon points="495.963,142.413 497.997,142.413 497.997,144.447 495.963,144.447" fill="#000"/>
<polygon points="495.431,141.243 497.142,141.243 497.142,142.954 495.431,142.954" fill="#000"/>
<polygon points="498.694,147.413 500.343,147.413 500.343,149.062 498.694,149.062" fill="#000"/>
<polygon points="498.834,145.734 500.349,145.734 500.349,147.248 498.834,147.248" fill="#000"/>
<polygon points="496.769,137.39 498.945,137.39 498.945,139.566 496.769,139.566" fill="#000"/>
<polygon points="497.574,146.573 499.725,146.573 499.725,148.724 497.574,148.724" fill="#000"/>
<polygon points="497.732,144.867 499.609,144.867 499.609,146.743 497.732,146.743" fill="#000"/>
<polygon points="495.81,143.45 497.015,143.45 497.015,144.656 495.81,144.656" fill="#000"/>
<polygon points="586.508,704.006 587.788,704.006 587.788,705.286 586.508,705.286" fill="#000"/>
<polygon points="585.342,699.203 588.127,699.203 588.127,701.988 585.342,701.988" fill="#000"/>
<polygon points="586.076,698.784 588.791,698.784 588.791,701.498 586.076,701.498" fill="#000"/>
<polygon points="585.764,703.857 588.176,703.857 588.176,706.27 585.764,706.27" fill="#000"/>
<polygon points="591.568,704.593 593.811,704.593 593.811,706.836 591.568,706.836" fill="#000"/>
<polygon points="591.099,698.927 593.681,698.927 593.681,701.508 591.099,701.508" fill="#000"/>
<polygon points="589.395,703.595 590.787,703.595 590.787,704.987 589.395,704.987" fill="#000"/>
<polygon points="591.337,704.952 592.647,704.952 592.647,706.262 591.337,706.262" fill="#000"/>
<polygon points="629.517,345.828 632.374,345.828 632.374,348.684 629.517,348.684" fill="#000"/>
<polygon points="629.603,344.869 631.303,344.869 631.303,346.569 629.603,346.569" fill="#000"/>
<polygon points="631.702,347.02 633.69,347.02 633.69,349.008 631.702,349.008" fill="#000"/>
<polygon points="630.255,345.636 632.155,345.636 632.155,347.537 630.255,347.537" fill="#000"/>
<polygon points="630.409,344.233 632.61,344.233 632.61,346.433 630.409,346.433" fill="#000"/>
<polygon points="633.491,345.304 636.186,345.304 636.186,347.999 633.491,347.999" fill="#000"/>
<polygon points="628.608,346.407 631.32,346.407 631.32,349.119 628.608,349.119" fill="#000"/>
<polygon points="631.959,345.985 634.127,345.985 634.127,348.152 631.959,348.152" fill="#000"/>
<polygon points="208,123.5 358,123.5 361,118.5 364,123.5 409,129 421.5,128 425,118 437.7,115.5 444,101.75 451.5,103 459,95 466.5,104 474,108 489,121.75 490,135.5 494,145.5 497.75,150.5 496.5,163 497.75,178 501.5,198 506.5,205.5 519,215.5 531,225 539.2,244 547.4,271.4 552.8,285 555.6,293.2 558.3,296 569.2,298.6 588.4,306.8 602,320.5 609.3,325.9 615.2,331.7 619.8,341.1 629.2,347 635.1,351.6 638.6,356.3 642.1,362.2 643.3,369.2 637.4,372.7 629.2,377.4 623.4,380.9 629.2,379.8 637.4,380.9 643.3,384.5 650.3,392.7 659.7,404.4 669.1,409.1 679.6,407.9 691.3,402 700,397.75 715,401.5 735,390.25 757.5,389 780,385.25 795,381.5 812.5,372.75 827.5,375.25 825,391.5 830,407.75 820,419 817.5,431.5 810,444 795,464 790,479 777.5,499 775,511.5 762.5,529 750,544 744.5,556 735,561.5 715,584 704.5,598.5 682,611 657,628.5 637,646 617,668.5 599.5,693.5 592,701 582,706 569.5,716 564.5,736 552,753.5 544.5,763.5 537,786 534.5,801 537.5,807 550,822.5 547,838 550,863 556,891 568.75,894.4 572,904 557.5,911.25 545,919 526.25,925.3 513.75,923.75 502.8,933 492,931.6 473,933 465.3,926.9 459,928.4 443.4,928.4 435.6,916 432.5,892.5 420,880 409.4,882 393.75,875.6 378,869 362.5,863 351,859.7 345.6,846 334.7,821.4 321,807.7 315.6,791.3 310,769.4 312.8,759.8 307.4,742 304.6,725.6 303.5,720 300.5,712 304,700 307.4,692.8 318.3,686 321,679 318.3,671 318.5,660 322.25,652.5 326,637.5 333.5,627.5 346,617.5 355.8,603.5 343.5,596.4 345,582.5 347,570 341.7,570 338.2,564.8 326,554.3 320.6,547.2 315.4,545.5 310,552.5 299.5,549 289,554.3 275,545.5 262.6,531.4 262.6,524.4 259,519 245,512 239.8,505 241.5,498 232.7,489.2 213.4,477 213.4,471.6 204.6,462 188.8,457.6 190.5,448.8 190,449 173.2,448 173.2,442.6 177,437 178.8,422.2 167.7,403.6 158.4,396.2 160.3,385 152.8,379.5 152.8,372 149.1,366.5 147.3,355.4 136.1,353.5 134.3,348 141.7,342.4 143.6,336.8 139.8,329.4 141.7,323.8 148.2,318.2 147.3,309 154.7,305.3 154.7,299.7 160.3,294 159.3,284.8 164,281 185.3,279.3 185.5,174 208,174" fill="none" stroke="#1a1a1a" stroke-width="1.2" stroke-linejoin="round"/>
<polyline points="190.5,449 200.5,436.5 203,424 210.5,411.5 229,409 240.5,429 248,430.25 278,427.75 280.5,434 298,434 304,425 315.5,424 315.5,416.5 325.5,411.5 340,418.9 346.8,424.3 357.8,424.3 372.8,402.5 384.4,392.9 383.1,377.9 378.3,372.4 390.6,372.4 391.3,365.5 404.3,365.5 400.8,382 404.3,401.1 413.8,407.9 419.3,414.8 419.3,429.8 423.4,430.5" fill="none" stroke="#111" stroke-width="1.3" stroke-linejoin="round"/>
<polyline points="527.75,224.25 516.5,235.5 506.5,240.5 494,245.5 491.5,258 489,263 484,283 479,293 480,313 476.7,330 471.3,347.8 469.9,353.2 460.3,354.6 446.6,375.1 445.3,388.8 442.5,395.6 435.7,397 427.5,406.6 426.1,417.5 423.4,430.5" fill="none" stroke="#111" stroke-width="1.3" stroke-linejoin="round"/>
<polyline points="480,314 489,314 496.5,311.75 501.5,316.75 506.5,313 514,300.5 524,310.5 539,306.75 549,309 559,308 569,308 583.5,320 597.6,331.7 609.3,344.6 619.8,358.7 625.7,361 629.2,355.2 633.9,351.6" fill="none" stroke="#111" stroke-width="1.3" stroke-linejoin="round"/>
<polyline points="619.8,358.7 614,366.9 605.8,376.3 604.6,395 611.6,396.2 626.9,392.7 631.6,395 637.4,385.6" fill="none" stroke="#111" stroke-width="1.3" stroke-linejoin="round"/>
<polyline points="637.4,385.6 625.7,404.4 629.2,411.4 638.6,423.1 652.7,440 657.5,441.5 725,466.5 750,466.5 680,539 655,539 640,544 634,549 607,561" fill="none" stroke="#111" stroke-width="1.3" stroke-linejoin="round"/>
<polyline points="607,561 591.5,561.5 581.5,555.25 559,564 549,576.5 514,564 489,551 466.5,546.5" fill="none" stroke="#111" stroke-width="1.3" stroke-linejoin="round"/>
<polyline points="607,561 585.75,588.5 585.75,673.5 599.5,693.5" fill="none" stroke="#111" stroke-width="1.3" stroke-linejoin="round"/>
<polyline points="423.4,430.5 424.8,451.7 413.8,455.8 402.9,455.8 397.4,470 409,474 419,481.5 429,489 444,501.5 446.5,519 451.5,526.5 464,529 466.5,546.5" fill="none" stroke="#111" stroke-width="1.3" stroke-linejoin="round"/>
<polyline points="422.5,555 450,528.75 462.5,527.5" fill="none" stroke="#111" stroke-width="1.3" stroke-linejoin="round"/>
<polyline points="430,546.25 466.5,546.25" fill="none" stroke="#111" stroke-width="1.3" stroke-linejoin="round"/>
<polyline points="347.5,568.75 357.5,565 372.5,570 382.5,566.25 400,563.75 410,566.25 422.5,555" fill="none" stroke="#111" stroke-width="1.3" stroke-linejoin="round"/>
<polyline points="422.5,555 425,565 432.5,572.5 435,582.5 442.5,600 445,620 432.5,635 420,652.5 419.75,678.75" fill="none" stroke="#111" stroke-width="1.3" stroke-linejoin="round"/>
<polyline points="337.25,680 343.5,678.75 419.75,678.75" fill="none" stroke="#111" stroke-width="1.3" stroke-linejoin="round"/>
<polyline points="419.75,678.75 468.5,705 506,725 508.5,737.5 512,743.5 544.5,763.5" fill="none" stroke="#111" stroke-width="1.3" stroke-linejoin="round"/>
<polyline points="304.6,717.4 312.8,720 334.7,718.8 334.7,712 345.6,709 345.6,701 337.4,680.5 329,687.4 318.3,686" fill="none" stroke="#111" stroke-width="1.3" stroke-linejoin="round"/>
<polyline points="334.7,718.8 338.8,724.3 345.6,731 334.7,744.8 321,755.7 312.8,759.8" fill="none" stroke="#111" stroke-width="1.3" stroke-linejoin="round"/>
</g>
<rect x="129.5" y="89.5" width="706.5" height="849.7" fill="none" stroke="#000" stroke-width="1.3"/>
<line x1="108" y1="173.75" x2="129.5" y2="173.75" stroke="#000" stroke-width="1.3"/>
<text x="91" y="183.75" text-anchor="end" font-family="Liberation Sans" font-size="30" fill="#000">20°N</text>
<line x1="108" y1="297.3" x2="129.5" y2="297.3" stroke="#000" stroke-width="1.3"/>
<text x="91" y="307.3" text-anchor="end" font-family="Liberation Sans" font-size="30" fill="#000">15°N</text>
<line x1="108" y1="418.3" x2="129.5" y2="418.3" stroke="#000" stroke-width="1.3"/>
<text x="91" y="428.3" text-anchor="end" font-family="Liberation Sans" font-size="30" fill="#000">10°N</text>
<line x1="108" y1="537.4" x2="129.5" y2="537.4" stroke="#000" stroke-width="1.3"/>
<text x="91" y="547.4" text-anchor="end" font-family="Liberation Sans" font-size="30" fill="#000">5°N</text>
<line x1="108" y1="655.5" x2="129.5" y2="655.5" stroke="#000" stroke-width="1.3"/>
<text x="91" y="665.5" text-anchor="end" font-family="Liberation Sans" font-size="30" fill="#000">0°</text>
<line x1="108" y1="773.6" x2="129.5" y2="773.6" stroke="#000" stroke-width="1.3"/>
<text x="91" y="783.6" text-anchor="end" font-family="Liberation Sans" font-size="30" fill="#000">5°S</text>
<line x1="108" y1="892.1" x2="129.5" y2="892.1" stroke="#000" stroke-width="1.3"/>
<text x="91" y="902.1" text-anchor="end" font-family="Liberation Sans" font-size="30" fill="#000">10°S</text>
<line x1="208.4" y1="939" x2="208.4" y2="961" stroke="#000" stroke-width="1.3"/>
<text x="208.4" y="1003" text-anchor="middle" font-family="Liberation Sans" font-size="30" fill="#000">25°E</text>
<line x1="326.25" y1="939" x2="326.25" y2="961" stroke="#000" stroke-width="1.3"/>
<text x="326.25" y="1003" text-anchor="middle" font-family="Liberation Sans" font-size="30" fill="#000">30°E</text>
<line x1="444.4" y1="939" x2="444.4" y2="961" stroke="#000" stroke-width="1.3"/>
<text x="444.4" y="1003" text-anchor="middle" font-family="Liberation Sans" font-size="30" fill="#000">35°E</text>
<line x1="562.3" y1="939" x2="562.3" y2="961" stroke="#000" stroke-width="1.3"/>
<text x="562.3" y="1003" text-anchor="middle" font-family="Liberation Sans" font-size="30" fill="#000">40°E</text>
<line x1="680.2" y1="939" x2="680.2" y2="961" stroke="#000" stroke-width="1.3"/>
<text x="680.2" y="1003" text-anchor="middle" font-family="Liberation Sans" font-size="30" fill="#000">45°E</text>
<line x1="798.1" y1="939" x2="798.1" y2="961" stroke="#000" stroke-width="1.3"/>
<text x="798.1" y="1003" text-anchor="middle" font-family="Liberation Sans" font-size="30" fill="#000">50°E</text>
<rect x="888.5" y="96.0" width="42" height="76.2" fill="#FFAAAA" stroke="#333" stroke-width="0.9"/>
<rect x="888.5" y="172.2" width="42" height="76.2" fill="#CC0000" stroke="#333" stroke-width="0.9"/>
<rect x="888.5" y="248.4" width="42" height="76.2" fill="#FF3300" stroke="#333" stroke-width="0.9"/>
<rect x="888.5" y="324.6" width="42" height="76.2" fill="#FF8C00" stroke="#333" stroke-width="0.9"/>
<rect x="888.5" y="400.8" width="42" height="76.2" fill="#FDD32A" stroke="#333" stroke-width="0.9"/>
<rect x="888.5" y="477.0" width="42" height="76.2" fill="#FFFDCC" stroke="#333" stroke-width="0.9"/>
<rect x="888.5" y="553.2" width="42" height="76.2" fill="#73C6F2" stroke="#333" stroke-width="0.9"/>
<rect x="888.5" y="629.4" width="42" height="76.2" fill="#0AA8FA" stroke="#333" stroke-width="0.9"/>
<rect x="888.5" y="705.6" width="42" height="76.2" fill="#3A75E6" stroke="#333" stroke-width="0.9"/>
<rect x="888.5" y="781.8" width="42" height="76.2" fill="#0A14FF" stroke="#333" stroke-width="0.9"/>
<rect x="888.5" y="858.0" width="42" height="76.2" fill="#7E1EEB" stroke="#333" stroke-width="0.9"/>
<text x="955.6" y="180.7" text-anchor="middle" font-family="Liberation Sans" font-size="24.5" fill="#000">40</text>
<text x="955.6" y="256.9" text-anchor="middle" font-family="Liberation Sans" font-size="24.5" fill="#000">36</text>
<text x="955.6" y="333.1" text-anchor="middle" font-family="Liberation Sans" font-size="24.5" fill="#000">32</text>
<text x="955.6" y="409.3" text-anchor="middle" font-family="Liberation Sans" font-size="24.5" fill="#000">28</text>
<text x="955.6" y="485.5" text-anchor="middle" font-family="Liberation Sans" font-size="24.5" fill="#000">24</text>
<text x="955.6" y="561.7" text-anchor="middle" font-family="Liberation Sans" font-size="24.5" fill="#000">20</text>
<text x="955.6" y="637.9" text-anchor="middle" font-family="Liberation Sans" font-size="24.5" fill="#000">16</text>
<text x="955.6" y="714.1" text-anchor="middle" font-family="Liberation Sans" font-size="24.5" fill="#000">12</text>
<text x="955.6" y="790.3" text-anchor="middle" font-family="Liberation Sans" font-size="24.5" fill="#000">8</text>
<text x="955.6" y="866.5" text-anchor="middle" font-family="Liberation Sans" font-size="24.5" fill="#000">4</text>
<g>
<rect x="720.5" y="104.8" width="99.2" height="99.9" fill="#FCFCFA"/>
<circle cx="770" cy="154.8" r="49.3" fill="none" stroke="#1E7E3E" stroke-width="0.6" opacity="0.75"/>
<circle cx="770" cy="154.8" r="39.6" fill="none" stroke="#1E7E3E" stroke-width="0.6" opacity="0.75"/>
<defs><path id="ringT" d="M 728.2,160.5 A 42.3,42.3 0 1,1 811.8,160.5"/><path id="ringB" d="M 723.8,163 A 47.2,47.2 0 0,0 816.2,163"/></defs>
<text font-family="Liberation Sans" font-weight="bold" font-size="4.6" fill="#1E7E3E" opacity="0.9"><textPath href="#ringT" textLength="148" lengthAdjust="spacingAndGlyphs">INTERGOVERNMENTAL AUTHORITY ON DEVELOPMENT</textPath></text>
<text font-family="Liberation Sans" font-weight="bold" font-size="4.3" fill="#1E7E3E" opacity="0.9"><textPath href="#ringB" textLength="140" lengthAdjust="spacingAndGlyphs">AUTORITE INTERGOUVERNEMENTALE POUR LE DEVELOPPEMENT</textPath></text>
<polygon points="725.3,153.3 725.858,154.831 727.487,154.889 726.204,155.894 726.652,157.461 725.3,156.55 723.948,157.461 724.396,155.894 723.113,154.889 724.742,154.831" fill="#1E7E3E"/>
<polygon points="814.6,153.3 815.158,154.831 816.787,154.889 815.504,155.894 815.952,157.461 814.6,156.55 813.248,157.461 813.696,155.894 812.413,154.889 814.042,154.831" fill="#1E7E3E"/>
<text transform="translate(770.9,135.4) scale(0.84,1)" text-anchor="middle" font-family="Liberation Sans" font-weight="bold" font-size="16.8" fill="#1E7E3E">IGAD</text>
<polygon points="751,139.5 765,139.5 771.3,142 779.5,142.7 780.8,146.5 789.7,154 785.9,158.6 782.7,163 784,164.3 784,169.4 780.8,174.4 778.3,179.5 773.2,180.8 769.4,175.7 768,165.6 765.6,158.6 760.5,158.6 754,155.4 751,151 751.6,146" fill="#1F8540"/>
<polygon points="772.5,147 780.8,146.5 789.7,154 785.9,158.6 782.7,163 777.6,161.7 774.4,156.7 772.5,152.2" fill="#E8B24C"/>
<polygon points="786,169 789.7,168 788.5,175.7 785.8,175.2" fill="#1E7E3E"/>
<line x1="750" y1="141.7" x2="761" y2="141.7" stroke="#7FB08F" stroke-width="0.9"/>
<line x1="747" y1="145.4" x2="757" y2="145.4" stroke="#E8B24C" stroke-width="0.9"/>
<line x1="745.5" y1="149.2" x2="757" y2="149.2" stroke="#4F9A66" stroke-width="0.9"/>
<line x1="745.5" y1="153" x2="757" y2="153" stroke="#E8B24C" stroke-width="0.9"/>
<line x1="748" y1="156.7" x2="755" y2="156.7" stroke="#4F9A66" stroke-width="0.9"/>
<line x1="760.5" y1="161" x2="772" y2="161" stroke="#E8B24C" stroke-width="0.9"/>
<line x1="763" y1="164.9" x2="774" y2="164.9" stroke="#6FA884" stroke-width="0.9"/>
<line x1="763" y1="168.7" x2="771" y2="168.7" stroke="#E8B24C" stroke-width="0.9"/>
<line x1="763" y1="172.4" x2="775" y2="172.4" stroke="#4F9A66" stroke-width="0.9"/>
<line x1="766" y1="176.2" x2="772" y2="176.2" stroke="#E8B24C" stroke-width="0.9"/>
<line x1="766" y1="180" x2="774" y2="180" stroke="#4F9A66" stroke-width="0.9"/>
<path d="M 740.65,133.24 Q 740.20,136.21 740.99,138.05 Q 742.97,137.81 745.33,135.93" fill="none" stroke="#1E7E3E" stroke-width="1.6" stroke-linecap="round"/>
<path d="M 736.68,140.10 Q 736.88,143.10 738.05,144.73 Q 739.94,144.06 741.83,141.72" fill="none" stroke="#1E7E3E" stroke-width="1.6" stroke-linecap="round"/>
<path d="M 734.28,147.66 Q 735.14,150.55 736.63,151.88 Q 738.33,150.82 739.66,148.13" fill="none" stroke="#1E7E3E" stroke-width="1.6" stroke-linecap="round"/>
<path d="M 733.59,155.56 Q 735.04,158.19 736.79,159.17 Q 738.22,157.77 738.94,154.85" fill="none" stroke="#1E7E3E" stroke-width="1.6" stroke-linecap="round"/>
<path d="M 734.61,163.42 Q 736.61,165.68 738.52,166.26 Q 739.61,164.58 739.69,161.57" fill="none" stroke="#1E7E3E" stroke-width="1.6" stroke-linecap="round"/>
<path d="M 737.32,170.88 Q 739.75,172.65 741.75,172.80 Q 742.45,170.93 741.87,167.98" fill="none" stroke="#1E7E3E" stroke-width="1.6" stroke-linecap="round"/>
<path d="M 741.57,177.57 Q 744.33,178.77 746.31,178.49 Q 746.59,176.51 745.39,173.75" fill="none" stroke="#1E7E3E" stroke-width="1.6" stroke-linecap="round"/>
<path d="M 747.18,183.18 Q 750.13,183.76 752.00,183.05 Q 751.85,181.06 750.08,178.63" fill="none" stroke="#1E7E3E" stroke-width="1.6" stroke-linecap="round"/>
<path d="M 753.86,187.45 Q 756.87,187.37 758.54,186.28 Q 757.96,184.37 755.71,182.38" fill="none" stroke="#1E7E3E" stroke-width="1.6" stroke-linecap="round"/>
<path d="M 794.67,135.93 Q 797.03,137.81 799.01,138.05 Q 799.80,136.21 799.35,133.24" fill="none" stroke="#1E7E3E" stroke-width="1.6" stroke-linecap="round"/>
<path d="M 798.17,141.72 Q 800.06,144.06 801.95,144.73 Q 803.12,143.10 803.32,140.10" fill="none" stroke="#1E7E3E" stroke-width="1.6" stroke-linecap="round"/>
<path d="M 800.34,148.13 Q 801.67,150.82 803.37,151.88 Q 804.86,150.55 805.72,147.66" fill="none" stroke="#1E7E3E" stroke-width="1.6" stroke-linecap="round"/>
<path d="M 801.06,154.85 Q 801.78,157.77 803.21,159.17 Q 804.96,158.19 806.41,155.56" fill="none" stroke="#1E7E3E" stroke-width="1.6" stroke-linecap="round"/>
<path d="M 800.31,161.57 Q 800.39,164.58 801.48,166.26 Q 803.39,165.68 805.39,163.42" fill="none" stroke="#1E7E3E" stroke-width="1.6" stroke-linecap="round"/>
<path d="M 798.13,167.98 Q 797.55,170.93 798.25,172.80 Q 800.25,172.65 802.68,170.88" fill="none" stroke="#1E7E3E" stroke-width="1.6" stroke-linecap="round"/>
<path d="M 794.61,173.75 Q 793.41,176.51 793.69,178.49 Q 795.67,178.77 798.43,177.57" fill="none" stroke="#1E7E3E" stroke-width="1.6" stroke-linecap="round"/>
<path d="M 789.92,178.63 Q 788.15,181.06 788.00,183.05 Q 789.87,183.76 792.82,183.18" fill="none" stroke="#1E7E3E" stroke-width="1.6" stroke-linecap="round"/>
<path d="M 784.29,182.38 Q 782.04,184.37 781.46,186.28 Q 783.13,187.37 786.14,187.45" fill="none" stroke="#1E7E3E" stroke-width="1.6" stroke-linecap="round"/>
<path d="M 762,186 Q 770,189 776,191.5 M 778,186 Q 770,189 764,191.5" fill="none" stroke="#1E7E3E" stroke-width="0.6"/>
</g>
</svg></body></html>
